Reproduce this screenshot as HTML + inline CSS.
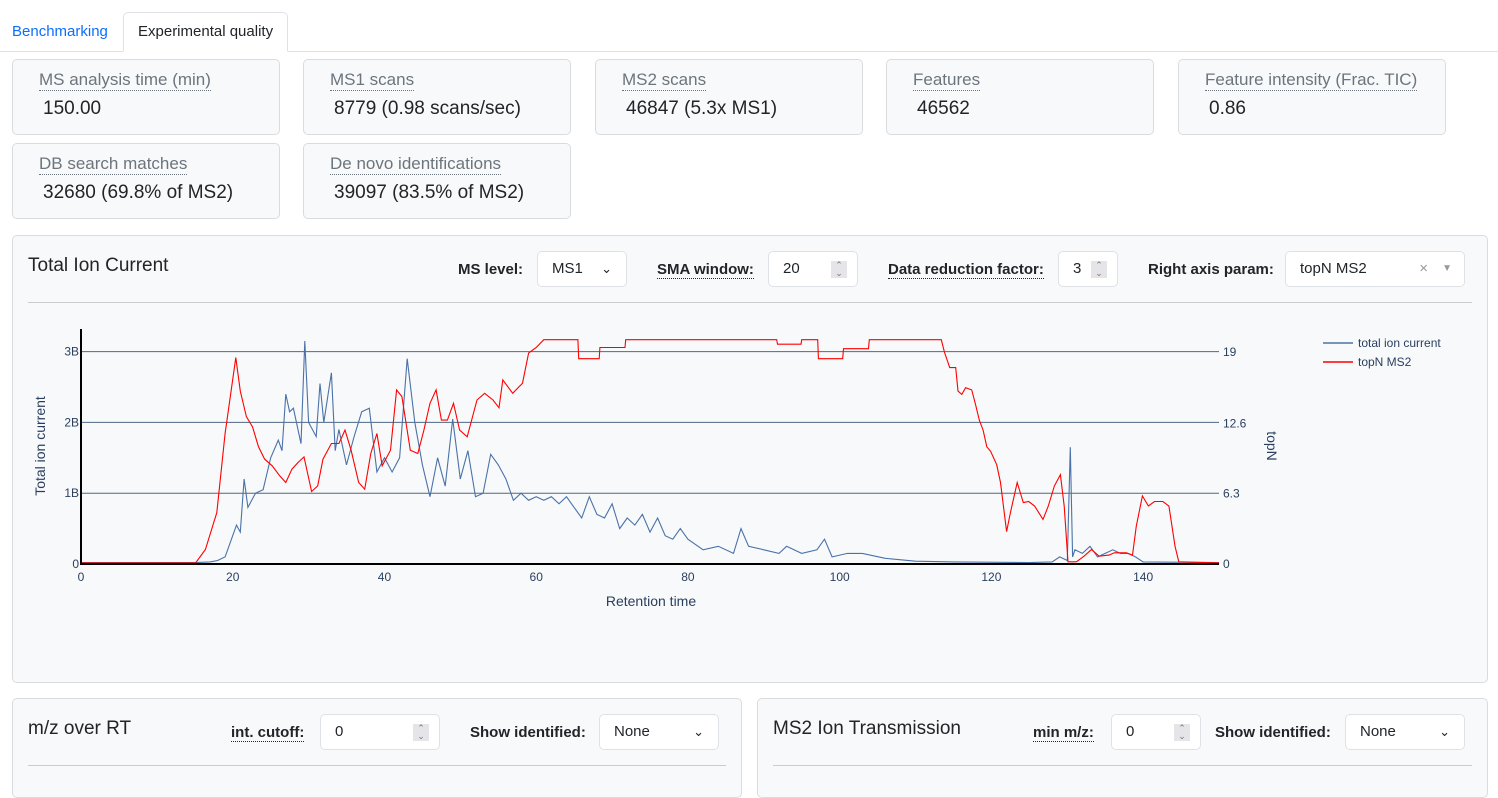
<!DOCTYPE html>
<html><head><meta charset="utf-8">
<style>
*{box-sizing:border-box}
body{margin:0;width:1498px;height:787px;overflow:hidden;background:#fff;font-family:"Liberation Sans",sans-serif;color:#212529;position:relative}
.abs{position:absolute}
.tabline{position:absolute;left:0;top:51px;width:1498px;height:1px;background:#dee2e6}
.tab{position:absolute;top:12px;height:40px;font-size:15px;line-height:40px;padding:0 12px;white-space:nowrap}
.card{position:absolute;width:268px;height:76px;border:1px solid #d9dcdf;border-radius:5px;background:#f8f9fa}
.card .t{position:absolute;left:26px;top:10px;font-size:17px;color:#6c757d;border-bottom:1px dotted #6c757d;line-height:20px;white-space:nowrap}
.card .v{position:absolute;left:30px;top:38px;font-size:19px;color:#212529;white-space:nowrap}
.panel{position:absolute;border:1px solid #d9dcdf;border-radius:5px;background:#f8f9fa}
.lbl{position:absolute;font-size:15px;font-weight:bold;line-height:20px;white-space:nowrap}
.u{border-bottom:1px dotted #212529}
.box{position:absolute;background:#fff;border:1px solid #dee2e6;border-radius:5px;font-size:15px;line-height:34px;padding-left:14px;height:36px}
.spin{position:absolute;right:10px;top:9px;width:16px;height:17px;background:#e4e4e9;font-size:9px;line-height:8px;text-align:center;color:#777}
.hr{position:absolute;height:1px;background:#ccc}
</style></head><body>
<div class="tab" style="left:0;color:#0d6efd">Benchmarking</div>
<div class="tab" style="left:123px;width:165px;border:1px solid #dee2e6;border-bottom:1px solid #fff;border-radius:5px 5px 0 0;background:#fff;z-index:2;line-height:38px;padding:0 14px">Experimental quality</div>
<div class="tabline"></div>

<div class="card" style="left:12px;top:59px"><span class="t">MS analysis time (min)</span><span class="v">150.00</span></div>
<div class="card" style="left:303px;top:59px"><span class="t">MS1 scans</span><span class="v">8779 (0.98 scans/sec)</span></div>
<div class="card" style="left:595px;top:59px"><span class="t">MS2 scans</span><span class="v">46847 (5.3x MS1)</span></div>
<div class="card" style="left:886px;top:59px"><span class="t">Features</span><span class="v">46562</span></div>
<div class="card" style="left:1178px;top:59px"><span class="t">Feature intensity (Frac. TIC)</span><span class="v">0.86</span></div>
<div class="card" style="left:12px;top:143px"><span class="t">DB search matches</span><span class="v">32680 (69.8% of MS2)</span></div>
<div class="card" style="left:303px;top:143px"><span class="t">De novo identifications</span><span class="v">39097 (83.5% of MS2)</span></div>

<div class="panel" style="left:12px;top:235px;width:1476px;height:448px"></div>
<div class="abs" style="left:28px;top:255px;font-size:19px">Total Ion Current</div>
<div class="lbl" style="left:458px;top:260px">MS level:</div>
<div class="box" style="left:537px;top:251px;width:90px">MS1<span style="position:absolute;right:14px;top:0;font-size:13px">&#8964;</span></div>
<div class="lbl" style="left:657px;top:260px"><span class="u">SMA window:</span></div>
<div class="box" style="left:768px;top:251px;width:90px">20<span class="spin">&#8963;<br>&#8964;</span></div>
<div class="lbl" style="left:888px;top:260px"><span class="u">Data reduction factor:</span></div>
<div class="box" style="left:1058px;top:251px;width:60px">3<span class="spin">&#8963;<br>&#8964;</span></div>
<div class="lbl" style="left:1148px;top:260px">Right axis param:</div>
<div class="box" style="left:1285px;top:251px;width:180px">topN MS2<span style="position:absolute;right:36px;top:0;color:#999">×</span><span style="position:absolute;right:12px;top:0;color:#999;font-size:10px">&#9660;</span></div>
<div class="hr" style="left:28px;top:302px;width:1444px"></div>

<svg class="abs" style="left:0;top:0" width="1498" height="787" id="chart"></svg>

<div class="panel" style="left:12px;top:698px;width:730px;height:100px"></div>
<div class="abs" style="left:28px;top:718px;font-size:19px">m/z over RT</div>
<div class="lbl" style="left:231px;top:723px"><span class="u">int. cutoff:</span></div>
<div class="box" style="left:320px;top:714px;width:120px">0<span class="spin">&#8963;<br>&#8964;</span></div>
<div class="lbl" style="left:470px;top:723px">Show identified:</div>
<div class="box" style="left:599px;top:714px;width:120px">None<span style="position:absolute;right:14px;top:0;font-size:13px">&#8964;</span></div>
<div class="hr" style="left:28px;top:765px;width:698px"></div>

<div class="panel" style="left:757px;top:698px;width:731px;height:100px"></div>
<div class="abs" style="left:773px;top:718px;font-size:19px">MS2 Ion Transmission</div>
<div class="lbl" style="left:1033px;top:723px"><span class="u">min m/z:</span></div>
<div class="box" style="left:1111px;top:714px;width:90px">0<span class="spin">&#8963;<br>&#8964;</span></div>
<div class="lbl" style="left:1215px;top:723px">Show identified:</div>
<div class="box" style="left:1345px;top:714px;width:120px">None<span style="position:absolute;right:14px;top:0;font-size:13px">&#8964;</span></div>
<div class="hr" style="left:773px;top:765px;width:699px"></div>

<script>
const ticTime=[0,5,10,15,17,18,19,20,20.5,21,21.5,22,23,24,25,26,26.5,27,27.5,28,29,29.5,30,31,31.5,32,33,33.5,34,35,36,37,38,39,40,41,42,43,44,45,46,47,48,49,50,51,52,53,54,55,56,57,58,59,60,61,62,63,64,65,66,67,68,69,70,71,72,73,74,75,76,77,78,79,80,82,84,86,87,88,90,92,93,95,97,98,99,101,103,106,110,115,125,128,129,130,130.4,130.7,131,132,133,134,135,136,137,138,139,140,150];
const ticValues=[0.02,0.02,0.02,0.02,0.03,0.05,0.1,0.4,0.55,0.45,1.2,0.8,1.0,1.05,1.5,1.75,1.6,2.4,2.15,2.2,1.7,3.15,2.0,1.8,2.55,2.0,2.7,1.6,1.9,1.4,1.8,2.15,2.2,1.3,1.5,1.3,1.5,2.9,2.0,1.4,0.95,1.5,1.1,2.05,1.2,1.6,0.95,1.0,1.55,1.4,1.2,0.9,1.0,0.9,0.95,0.9,0.95,0.85,0.95,0.8,0.65,0.95,0.7,0.65,0.85,0.5,0.65,0.55,0.7,0.45,0.65,0.4,0.35,0.5,0.35,0.2,0.25,0.15,0.5,0.25,0.2,0.15,0.25,0.15,0.2,0.35,0.1,0.15,0.15,0.08,0.04,0.03,0.02,0.03,0.1,0.05,1.65,0.1,0.2,0.15,0.25,0.1,0.15,0.2,0.15,0.15,0.1,0.03,0.02];
const topnTime=[0,15.1,16.4,17.9,19,20.4,21,21.8,22.6,23.4,24.2,25.2,26.2,27,27.8,28.6,29.4,30.4,31.2,31.9,33,34,34.8,35.6,36.6,37.4,38.2,39,39.7,40.8,41.6,42.3,43.4,44.4,45.2,46,46.8,47.5,48.3,49.1,49.9,50.9,52.2,53.2,54.3,55.1,55.6,56.9,58.2,59,60,61,65.5,65.6,68.3,68.4,71.7,71.8,91.7,91.8,94.9,95,97.1,97.2,100.4,100.5,103.8,103.9,113.4,113.8,114.5,115.3,115.6,116.1,116.6,117.4,117.9,118.4,118.9,119.4,119.9,120.7,121.2,122,122.5,123.4,124.2,124.9,125.7,126.8,127.5,128.3,129.1,129.6,130.1,131.2,132.2,133.2,134.2,135.5,136.2,137.8,138.6,139.1,139.9,140.7,141.5,142.6,143.4,144.2,144.7,150];
const topnValues=[0.1,0.1,1.3,4.6,11.7,18.5,15.5,13.2,12.3,10.5,9.4,8.8,7.9,7.3,8.5,9.1,9.6,6.5,7,9.4,10.8,10.8,12,10.2,7.3,6.7,9.9,11.7,8.8,10.2,15.6,15,10.2,9.9,12,14.4,15.6,12.9,12.9,14.4,12,11.4,14.7,15.3,14.7,14,16.5,15.3,16.2,18.9,19.4,20.1,20.1,18.4,18.4,19.4,19.4,20.1,20.1,19.7,19.7,20.1,20.1,18.4,18.4,19.3,19.3,20.1,20.1,19,17.6,17.6,15.5,15.2,15.8,15.6,14.3,12.9,12,10.5,10.1,8.9,7.3,2.9,4.6,7.3,5.5,5.6,5.2,4,5.2,7,8,5.2,0.2,0.2,0.7,1.3,0.7,0.8,1,1,0.8,3.4,6.1,5.2,5.6,5.6,5.2,1.6,0.2,0.1];
const xTicks=[0,20,40,60,80,100,120,140];
const yTicks=[0,1,2,3];
const yTickLabels=["0","1B","2B","3B"];
const y2Ticks=[0,6.3,12.6,19];
const y2TickLabels=["0","6.3","12.6","19"];

const NS="http://www.w3.org/2000/svg";
const svg=document.getElementById('chart');
const X0=81,X1=1219,Y0=564;
const xs=t=>X0+(t/150)*(X1-X0);
const ys=v=>Y0-v*70.8;
const y2s=v=>Y0-v*(212/19);
function mk(tag,attrs,parent){const e=document.createElementNS(NS,tag);for(const k in attrs)e.setAttribute(k,attrs[k]);(parent||svg).appendChild(e);return e;}
yTicks.forEach((v,i)=>{
  if(v>0){const g=mk('line',{x1:X0,x2:X1,y1:ys(v),y2:ys(v),stroke:'#506784','stroke-width':1});
  
  }
  const t=mk('text',{x:X0-2,y:ys(v)+4,'text-anchor':'end','font-size':12,fill:'#2a3f5f','font-family':'Liberation Sans, sans-serif'});
  t.textContent=yTickLabels[i];
  
  
});
y2Ticks.forEach((v,i)=>{
  const t=mk('text',{x:X1+4,y:y2s(v)+4,'font-size':12,fill:'#2a3f5f','font-family':'Liberation Sans, sans-serif'});
  t.textContent=y2TickLabels[i];
  
  
});
xTicks.forEach(v=>{
  const t=mk('text',{x:xs(v),y:Y0+17,'text-anchor':'middle','font-size':12,fill:'#2a3f5f','font-family':'Liberation Sans, sans-serif'});
  t.textContent=v;
  
  
});
const tl=mk('path',{d:ticTime.map((t,i)=>(i?'L':'M')+xs(t).toFixed(1)+','+ys(ticValues[i]).toFixed(1)).join(''),fill:'none',stroke:'#4a72a8','stroke-width':1.1});


const rl=mk('path',{d:topnTime.map((t,i)=>(i?'L':'M')+xs(t).toFixed(1)+','+y2s(topnValues[i]).toFixed(1)).join(''),fill:'none',stroke:'#ff0000','stroke-width':1.1});


const ax=mk('line',{x1:X0,x2:X0,y1:329,y2:Y0+1,stroke:'#000','stroke-width':2});


const bx=mk('line',{x1:X0,x2:X1,y1:Y0,y2:Y0,stroke:'#000','stroke-width':2});


const xt=mk('text',{x:651,y:606,'text-anchor':'middle','font-size':14,fill:'#2a3f5f','font-family':'Liberation Sans, sans-serif'});
xt.textContent='Retention time';


const yt=mk('text',{x:45,y:446,'text-anchor':'middle','font-size':14,fill:'#2a3f5f','font-family':'Liberation Sans, sans-serif',transform:'rotate(-90 45 446)'});
yt.textContent='Total ion current';


const y2t=mk('text',{x:1267,y:446,'text-anchor':'middle','font-size':14,fill:'#2a3f5f','font-family':'Liberation Sans, sans-serif',transform:'rotate(90 1267 446)'});
y2t.textContent='topN';


[['total ion current','#4a72a8',343],['topN MS2','#ff0000',362]].forEach(([n,c,y])=>{
  const l=mk('line',{x1:1323,x2:1353,y1:y,y2:y,stroke:c,'stroke-width':1.5});
  
  
  const t=mk('text',{x:1358,y:y+4,'font-size':12,fill:'#2a3f5f','font-family':'Liberation Sans, sans-serif'});
  t.textContent=n;
  
  
});
</script>
</body></html>
